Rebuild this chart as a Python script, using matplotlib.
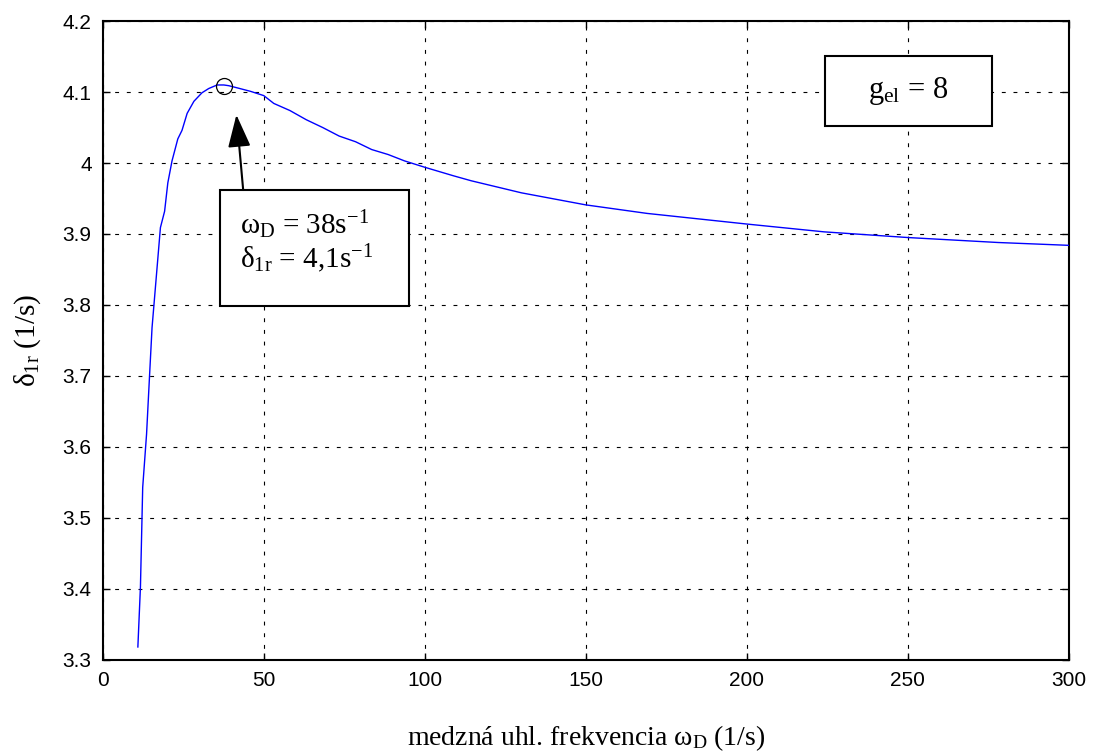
import matplotlib
matplotlib.use('Agg')
import matplotlib.pyplot as plt
from matplotlib.patches import Rectangle

# data
omega_d = [10.9, 11.7, 12.4, 13.6, 14.5, 15.3, 17.2, 17.9, 19.2, 20.2, 21.5,
           23.3, 24.6, 26.2, 28.3, 30.8, 32.9, 35.5, 37.6, 39.1, 41.7, 45.9,
           50.0, 53.1, 58.1, 63.2, 68.3, 73.4, 78.5, 83.5, 88.6, 93.7, 100.0,
           108.9, 114.4, 130.0, 150.0, 169.0, 200.0, 224.0, 250.0, 278.0,
           300.0]
delta_1r = [3.318, 3.403, 3.543, 3.618, 3.698, 3.768, 3.871, 3.909, 3.932,
            3.972, 4.003, 4.034, 4.046, 4.070, 4.087, 4.099, 4.105, 4.110,
            4.110, 4.109, 4.106, 4.101, 4.095, 4.084, 4.074, 4.061, 4.050,
            4.038, 4.030, 4.019, 4.012, 4.003, 3.994, 3.982, 3.975, 3.958,
            3.941, 3.929, 3.914, 3.903, 3.895, 3.888, 3.884]
peak_x = [37.6]
peak_y = [4.109]
xticks = [0, 50, 100, 150, 200, 250, 300]
yticks = [3.3, 3.4, 3.5, 3.6, 3.7, 3.8, 3.9, 4.0, 4.1, 4.2]
ytick_labels = ['3.3', '3.4', '3.5', '3.6', '3.7', '3.8', '3.9', '4', '4.1', '4.2']

plt.rcParams['font.family'] = ['Liberation Sans', 'DejaVu Sans']
plt.rcParams['mathtext.fontset'] = 'custom'
plt.rcParams['mathtext.rm'] = 'Liberation Serif'
plt.rcParams['mathtext.it'] = 'Liberation Serif:italic'

fig = plt.figure(figsize=(11.17, 7.54), dpi=100)
ax = fig.add_axes([0.092, 0.125, 0.865, 0.847])

ax.plot(omega_d, delta_1r, color='#0000ff', linewidth=1.0, zorder=3)
ax.plot(peak_x, peak_y, 'o', mfc='none', mec='black', ms=11.5, mew=0.9, zorder=4)

ax.set_xlim(0, 300)
ax.set_ylim(3.3, 4.2)
ax.set_xticks(xticks)
ax.set_yticks(yticks)
ax.set_yticklabels(ytick_labels)
ax.tick_params(direction='in', length=5, width=1, labelsize=15,
               top=True, right=True, pad=8)
for s in ax.spines.values():
    s.set_linewidth(1.5)
ax.grid(True, color='black', linestyle=(0, (3.5, 7)), linewidth=0.8)

serif = ['Liberation Serif', 'DejaVu Serif']
ax.set_xlabel('medzná uhl. frekvencia ω$_\\mathrm{D}$ (1/s)',
              fontsize=20, family=serif, labelpad=24)
ax.set_ylabel('δ$_\\mathrm{1r}$ (1/s)', fontsize=21, family=serif,
              labelpad=14)

# annotation box with arrow
ax.add_patch(Rectangle((0.121, 0.554), 0.196, 0.181, transform=ax.transAxes,
                       fc='white', ec='black', lw=1.5, zorder=5))
ax.text(0.142, 0.681, 'ω$_\\mathrm{D}$ = 38s$^\\mathrm{-1}$',
        transform=ax.transAxes, fontsize=21, family=serif,
        va='center', ha='left', zorder=6)
ax.text(0.142, 0.628, 'δ$_\\mathrm{1r}$ = 4,1s$^\\mathrm{-1}$',
        transform=ax.transAxes, fontsize=21, family=serif,
        va='center', ha='left', zorder=6)
ax.annotate('', xy=(41.5, 4.068), xytext=(43.6, 3.962),
            arrowprops=dict(arrowstyle='-|>,head_length=2.0,head_width=0.7',
                            color='black', lw=1.5, shrinkA=0, shrinkB=0),
            zorder=6)

ax.add_patch(Rectangle((0.748, 0.836), 0.172, 0.109, transform=ax.transAxes,
                       fc='white', ec='black', lw=1.5, zorder=5))
ax.text(0.834, 0.890, 'g$_\\mathrm{el}$ = 8', transform=ax.transAxes,
        fontsize=22, family=serif, va='center', ha='center', zorder=6)

fig.savefig('out.png', dpi=100)
